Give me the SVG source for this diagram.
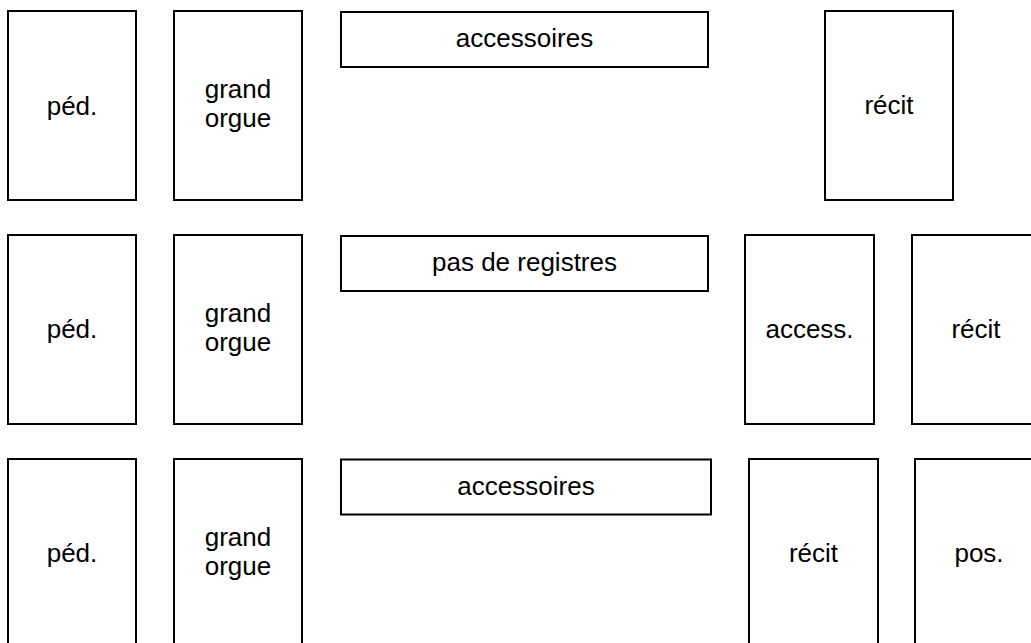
<svg xmlns="http://www.w3.org/2000/svg" width="1031" height="643" viewBox="0 0 1031 643">
<style>
rect{fill:#fff;stroke:#000;stroke-width:2}
text{font-family:"Liberation Sans",Arial,sans-serif;font-size:26px;fill:#000;text-anchor:middle}
</style>
<rect x="0" y="0" width="1031" height="643" style="stroke:none"/>
<g id="row1">
<g id="ped1"><rect x="8" y="11" width="128" height="189"/><text x="72" y="114.5">péd.</text></g>
<g id="go1"><rect x="174" y="11" width="128" height="189"/><text x="238" y="97.5"><tspan x="238">grand</tspan><tspan x="238" dy="29.5">orgue</tspan></text></g>
<g id="acc1"><rect x="341" y="12" width="367" height="55"/><text x="524.5" y="47">accessoires</text></g>
<g id="recit1"><rect x="825" y="11" width="128" height="189"/><text x="889" y="114">récit</text></g>
</g>
<g id="row2">
<g id="ped2"><rect x="8" y="235" width="128" height="189"/><text x="72" y="338">péd.</text></g>
<g id="go2"><rect x="174" y="235" width="128" height="189"/><text x="238" y="321.5"><tspan x="238">grand</tspan><tspan x="238" dy="29.5">orgue</tspan></text></g>
<g id="pas2"><rect x="341" y="236" width="367" height="55"/><text x="524.5" y="271">pas de registres</text></g>
<g id="access2"><rect x="745" y="235" width="129" height="189"/><text x="809.5" y="337.5">access.</text></g>
<g id="recit2"><rect x="912" y="235" width="128" height="189"/><text x="976" y="337.5">récit</text></g>
</g>
<g id="row3">
<g id="ped3"><rect x="8" y="459" width="128" height="189"/><text x="72" y="562">péd.</text></g>
<g id="go3"><rect x="174" y="459" width="128" height="189"/><text x="238" y="545.5"><tspan x="238">grand</tspan><tspan x="238" dy="29.5">orgue</tspan></text></g>
<g id="acc3"><rect x="341" y="459.5" width="370" height="55"/><text x="526" y="495">accessoires</text></g>
<g id="recit3"><rect x="749" y="459" width="129" height="189"/><text x="813.5" y="561.5">récit</text></g>
<g id="pos3"><rect x="915" y="459" width="128" height="189"/><text x="979" y="561.5">pos.</text></g>
</g>
<g id="connectors"/>
</svg>
